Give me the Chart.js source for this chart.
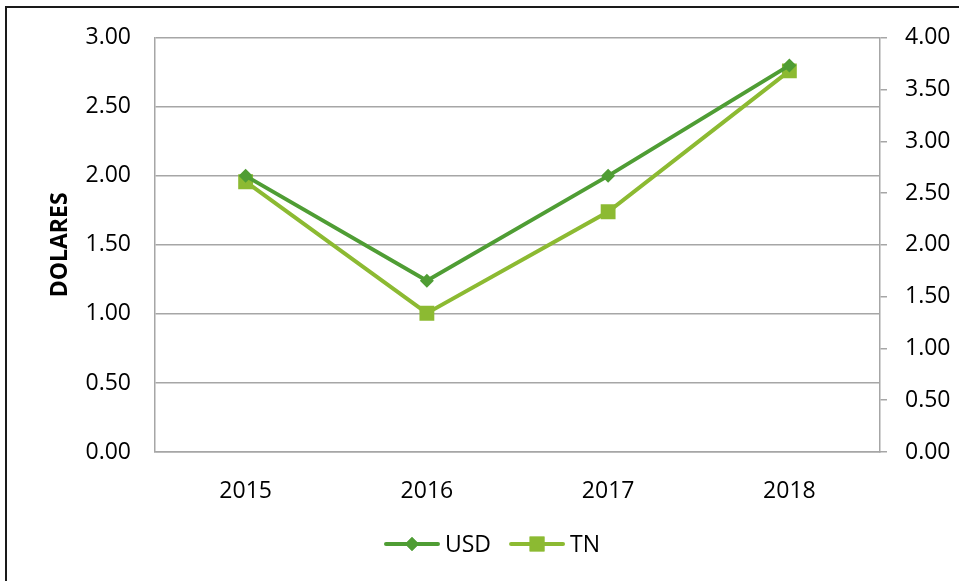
<!DOCTYPE html>
<html>
<head>
<meta charset="utf-8">
<script src="https://cdn.jsdelivr.net/npm/chart.js@4"></script>
<style>
  html, body { margin: 0; padding: 0; background: #fff; }
  #wrap { position: relative; width: 959px; height: 581px; overflow: hidden; }
  #frame { position: absolute; left: 5px; top: 6px; width: 1000px; height: 1000px;
           border-left: 2px solid #1a1a1a; border-top: 2px solid #1a1a1a; }
  canvas { position: absolute; left: 0; top: 0; }
</style>
</head>
<body>
<div id="wrap">
  <div id="frame"></div>
  <canvas id="chart" width="959" height="581"></canvas>
</div>
<script>
const years = ["2015", "2016", "2017", "2018"];
const usd = [2.00, 1.24, 2.00, 2.80];
const tn = [2.61, 1.34, 2.32, 3.68];

const FONT = "'Open Sans', 'Liberation Sans', sans-serif";
const gridColor = "#a6a6a6";

// legend drawn as line + marker, like the original
const lineLegend = {
  id: "lineLegend",
  afterDraw(chart) {
    const ctx = chart.ctx;
    const sets = chart.data.datasets;
    const y = 544;
    const seg = 52, gap = 7, spacing = 20;
    ctx.save();
    ctx.font = "23px " + FONT;
    let total = 0;
    sets.forEach((d, i) => {
      total += seg + gap + ctx.measureText(d.label).width + (i ? spacing : 0);
    });
    let x = 493 - total / 2;
    sets.forEach((d, i) => {
      if (i) x += spacing;
      ctx.strokeStyle = d.borderColor;
      ctx.lineWidth = d.borderWidth;
      ctx.lineCap = "round";
      ctx.beginPath();
      ctx.moveTo(x, y);
      ctx.lineTo(x + seg, y);
      ctx.stroke();
      ctx.fillStyle = d.backgroundColor;
      Chart.helpers.drawPoint(ctx, {
        pointStyle: d.pointStyle, radius: d.pointRadius, borderWidth: 0
      }, x + seg / 2, y);
      ctx.fill();
      x += seg + gap;
      ctx.fillStyle = "#000";
      ctx.textBaseline = "middle";
      ctx.fillText(d.label, x, y + 1);
      x += ctx.measureText(d.label).width;
    });
    ctx.restore();
  }
};

new Chart(document.getElementById("chart"), {
  type: "line",
  data: {
    labels: years,
    datasets: [
      {
        label: "USD",
        data: usd,
        yAxisID: "y",
        borderColor: "#4f9d34",
        backgroundColor: "#4f9d34",
        borderWidth: 4,
        pointStyle: "rectRot",
        pointRadius: 7,
        pointHoverRadius: 7,
        pointBorderWidth: 0,
        tension: 0
      },
      {
        label: "TN",
        data: tn,
        yAxisID: "y2",
        borderColor: "#8cba32",
        backgroundColor: "#8cba32",
        borderWidth: 4,
        pointStyle: "rect",
        pointRadius: 10.5,
        pointHoverRadius: 10.5,
        pointBorderWidth: 0,
        tension: 0
      }
    ]
  },
  options: {
    responsive: false,
    animation: false,
    layout: { padding: { top: 37, left: 0, right: 0, bottom: 0 } },
    plugins: { legend: { display: false }, tooltip: { enabled: false } },
    scales: {
      x: {
        offset: true,
        grid: { display: false },
        border: { display: true, color: gridColor, width: 1.5 },
        ticks: { color: "#000", font: { family: FONT, size: 23 }, padding: 18, maxRotation: 0 },
        afterFit(s) { s.height = 581 - 37 - 415; }
      },
      y: {
        position: "left",
        min: 0, max: 3,
        ticks: {
          stepSize: 0.5, color: "#000", padding: 24,
          font: { family: FONT, size: 23 },
          callback: v => v.toFixed(2)
        },
        grid: { color: gridColor, lineWidth: 1.5, drawTicks: false },
        border: { display: true, color: gridColor, width: 1.5 },
        title: {
          display: true, text: "DOLARES", color: "#000",
          font: { family: FONT, size: 23, weight: "bold" },
          padding: { top: 47, bottom: 0 }
        },
        afterFit(s) { s.width = 155; }
      },
      y2: {
        position: "right",
        min: 0, max: 4,
        ticks: {
          stepSize: 0.5, color: "#000", padding: 18,
          font: { family: FONT, size: 23 },
          callback: v => v.toFixed(2)
        },
        grid: { drawOnChartArea: false, color: gridColor, lineWidth: 1.5, tickLength: 7 },
        border: { display: true, color: gridColor, width: 1.5 },
        afterFit(s) { s.width = 959 - 880; }
      }
    }
  },
  plugins: [lineLegend]
});
</script>
</body>
</html>
